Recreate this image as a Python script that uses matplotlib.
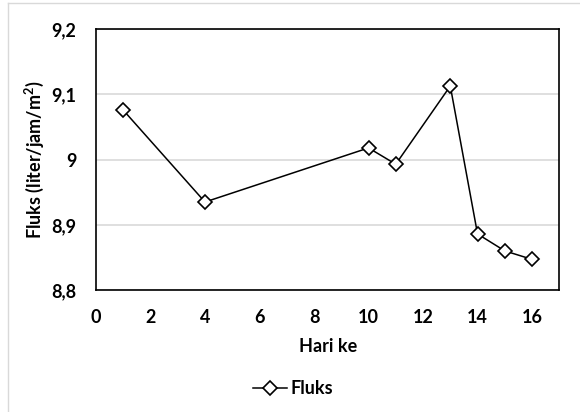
import matplotlib.pyplot as plt
from matplotlib.lines import Line2D
from matplotlib.ticker import FuncFormatter, MultipleLocator

# Flux measured per day of operation
hari = [1, 4, 10, 11, 13, 14, 15, 16]
fluks = [9.076, 8.935, 9.018, 8.993, 9.113, 8.886, 8.860, 8.847]

plt.rcParams["font.family"] = ["Lato", "DejaVu Sans"]

fig = plt.figure(figsize=(5.8, 4.12), dpi=100)
ax = fig.add_axes([0.1655, 0.2961, 0.7988, 0.6328])

# thin grey frame around the chart area
fig.add_artist(Line2D([0.013, 0.013], [0.0, 0.992], color="#d9d9d9", lw=1.0))
fig.add_artist(Line2D([0.013, 1.0], [0.992, 0.992], color="#d9d9d9", lw=1.0))

ax.plot(hari, fluks, color="black", lw=1.1, marker="D", markersize=7.5,
        markerfacecolor="white", markeredgecolor="black", markeredgewidth=1.2,
        zorder=3)

ax.set_xlim(0, 17)
ax.set_ylim(8.8, 9.2)
ax.xaxis.set_major_locator(MultipleLocator(2))
ax.yaxis.set_major_locator(MultipleLocator(0.1))


def koma(v, pos):
    s = f"{v:.1f}"
    if s.endswith(".0"):
        s = s[:-2]
    return s.replace(".", ",")


ax.yaxis.set_major_formatter(FuncFormatter(koma))
ax.xaxis.set_major_formatter(FuncFormatter(lambda v, pos: f"{v:.0f}"))

ax.grid(axis="y", color="#d9d9d9", lw=1.2)
ax.set_axisbelow(True)
for sp in ax.spines.values():
    sp.set_color("black")
    sp.set_linewidth(1.2)

ax.tick_params(axis="x", length=0, labelsize=13, pad=14)
ax.tick_params(axis="y", length=0, labelsize=13, pad=14)
for lbl in ax.get_xticklabels() + ax.get_yticklabels():
    lbl.set_fontweight("bold")

ax.set_xlabel("Hari ke", fontsize=13, fontweight="bold", labelpad=8)
ax.set_ylabel("Fluks (liter/jam/m$^\\mathregular{2}$)", fontsize=13,
              fontweight="bold", labelpad=4)

handle = Line2D([], [], color="black", lw=1.1, marker="D", markersize=7.5,
                markerfacecolor="white", markeredgecolor="black",
                markeredgewidth=1.2)
leg = fig.legend([handle], ["Fluks"], loc="center", bbox_to_anchor=(0.505, 0.056),
                 frameon=False, handlelength=1.9, handletextpad=0.2,
                 prop={"weight": "bold", "size": 13})

fig.savefig("out.png", dpi=100)
